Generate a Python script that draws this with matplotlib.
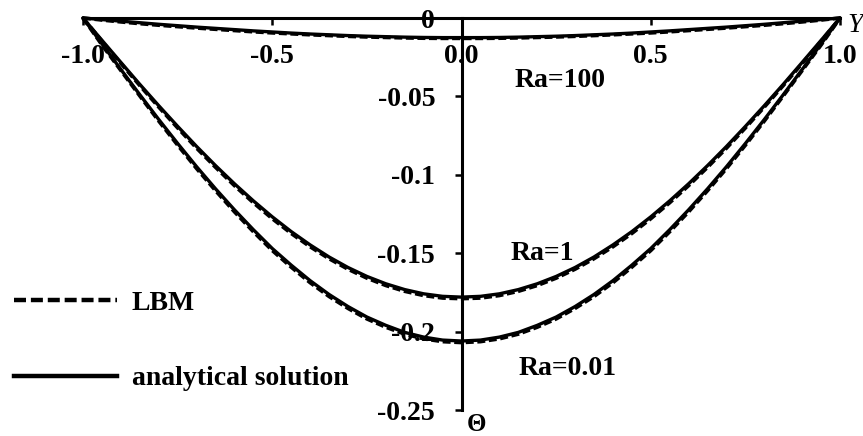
import matplotlib.pyplot as plt
from matplotlib.lines import Line2D

# dimensionless position across the channel
Y = [-1.0, -0.95, -0.9, -0.85, -0.8, -0.75, -0.7, -0.65, -0.6, -0.55, -0.5,
     -0.45, -0.4, -0.35, -0.3, -0.25, -0.2, -0.15, -0.1, -0.05, 0.0,
     0.05, 0.1, 0.15, 0.2, 0.25, 0.3, 0.35, 0.4, 0.45, 0.5,
     0.55, 0.6, 0.65, 0.7, 0.75, 0.8, 0.85, 0.9, 0.95, 1.0]

# analytical temperature profiles
ana_001 = [0, -0.0165, -0.0328, -0.0489, -0.0647, -0.0800, -0.0948, -0.1089, -0.1223, -0.1350, -0.1470,
           -0.1576, -0.1675, -0.1763, -0.1840, -0.1907, -0.1960, -0.2005, -0.2035, -0.2054, -0.2060,
           -0.2054, -0.2035, -0.2005, -0.1960, -0.1907, -0.1840, -0.1763, -0.1675, -0.1576, -0.1470,
           -0.1350, -0.1223, -0.1089, -0.0948, -0.0800, -0.0647, -0.0489, -0.0328, -0.0165, 0]
ana_1 = [0, -0.0142, -0.0283, -0.0423, -0.0559, -0.0691, -0.0819, -0.0941, -0.1057, -0.1166, -0.1268,
         -0.1362, -0.1447, -0.1524, -0.1591, -0.1648, -0.1695, -0.1732, -0.1759, -0.1775, -0.1780,
         -0.1775, -0.1759, -0.1732, -0.1695, -0.1648, -0.1591, -0.1524, -0.1447, -0.1362, -0.1268,
         -0.1166, -0.1057, -0.0941, -0.0819, -0.0691, -0.0559, -0.0423, -0.0283, -0.0142, 0]
ana_100 = [0, -0.0010, -0.0020, -0.0030, -0.0040, -0.0049, -0.0058, -0.0066, -0.0074, -0.0082, -0.0089,
           -0.0096, -0.0102, -0.0107, -0.0112, -0.0116, -0.0119, -0.0122, -0.0124, -0.0125, -0.0125,
           -0.0125, -0.0124, -0.0122, -0.0119, -0.0116, -0.0112, -0.0107, -0.0102, -0.0096, -0.0089,
           -0.0082, -0.0074, -0.0066, -0.0058, -0.0049, -0.0040, -0.0030, -0.0020, -0.0010, 0]

# LBM results
lbm_001 = [0, -0.0172, -0.0335, -0.0497, -0.0657, -0.0811, -0.0960, -0.1101, -0.1236, -0.1363, -0.1483,
           -0.1589, -0.1688, -0.1776, -0.1852, -0.1919, -0.1972, -0.2016, -0.2046, -0.2064, -0.2070,
           -0.2064, -0.2046, -0.2016, -0.1972, -0.1919, -0.1852, -0.1776, -0.1688, -0.1589, -0.1483,
           -0.1363, -0.1236, -0.1101, -0.0960, -0.0811, -0.0657, -0.0497, -0.0335, -0.0172, 0]
lbm_1 = [0, -0.0148, -0.0290, -0.0431, -0.0568, -0.0701, -0.0830, -0.0952, -0.1069, -0.1178, -0.1280,
         -0.1374, -0.1459, -0.1535, -0.1602, -0.1659, -0.1706, -0.1743, -0.1770, -0.1786, -0.1790,
         -0.1786, -0.1770, -0.1743, -0.1706, -0.1659, -0.1602, -0.1535, -0.1459, -0.1374, -0.1280,
         -0.1178, -0.1069, -0.0952, -0.0830, -0.0701, -0.0568, -0.0431, -0.0290, -0.0148, 0]
lbm_100 = [0, -0.0013, -0.0025, -0.0036, -0.0046, -0.0055, -0.0064, -0.0072, -0.0080, -0.0088, -0.0095,
           -0.0101, -0.0107, -0.0112, -0.0117, -0.0121, -0.0124, -0.0127, -0.0129, -0.0130, -0.0130,
           -0.0130, -0.0129, -0.0127, -0.0124, -0.0121, -0.0117, -0.0112, -0.0107, -0.0101, -0.0095,
           -0.0088, -0.0080, -0.0072, -0.0064, -0.0055, -0.0046, -0.0036, -0.0025, -0.0013, 0]

xticks = [-1.0, -0.5, 0.0, 0.5, 1.0]
xlabels = ['-1.0', '-0.5', '0.0', '0.5', '1.0']
yticks = [0, -0.05, -0.1, -0.15, -0.2, -0.25]
ylabels = ['0', '-0.05', '-0.1', '-0.15', '-0.2', '-0.25']

plt.rcParams['font.family'] = ['Liberation Serif', 'DejaVu Serif']
plt.rcParams['font.weight'] = 'bold'
fs = 20

fig = plt.figure(figsize=(8.63, 4.36), dpi=100)
ax = fig.add_axes([0.0962, 0.0596, 0.8772, 0.8991])

for prof in (ana_001, ana_1, ana_100):
    ax.plot(Y, prof, color='black', lw=2.4, clip_on=False, solid_capstyle='round')
for prof in (lbm_001, lbm_1, lbm_100):
    ax.plot(Y, prof, color='black', lw=2.6, dashes=(2.2, 1.0), clip_on=False)

ax.set_xlim(-1, 1)
ax.set_ylim(-0.25, 0)

for s in ('top', 'right'):
    ax.spines[s].set_visible(False)
ax.spines['left'].set_position(('data', 0))
ax.spines['bottom'].set_position(('data', 0))
for s in ('left', 'bottom'):
    ax.spines[s].set_linewidth(2.2)
    ax.spines[s].set_zorder(1)

ax.set_xticks(xticks)
ax.set_xticklabels(xlabels, fontsize=fs, fontweight='bold')
ax.set_yticks(yticks)
ax.set_yticklabels(ylabels, fontsize=fs, fontweight='bold')
ax.tick_params(axis='both', direction='out', length=5, width=1.8, pad=14)

ax.text(0.26, -0.0396, 'Ra=100', fontsize=fs, fontweight='bold', ha='center', va='center')
ax.text(0.213, -0.150, 'Ra=1', fontsize=fs, fontweight='bold', ha='center', va='center')
ax.text(0.279, -0.2236, 'Ra=0.01', fontsize=fs, fontweight='bold', ha='center', va='center')

ax.text(1.010, 0.982, 'Y', transform=ax.transAxes, fontsize=fs, fontstyle='italic',
        fontweight='normal', ha='left', va='center')
ax.text(0.52, -0.036, 'Θ', transform=ax.transAxes, fontsize=fs - 2, fontweight='bold',
        ha='center', va='center', clip_on=False)

handles = [Line2D([], [], color='black', lw=3.2, dashes=(2.7, 1.1)),
           Line2D([], [], color='black', lw=3.2)]
fig.legend(handles, ['LBM', 'analytical solution'], loc='center left',
           bbox_to_anchor=(0.016, 0.218), bbox_transform=fig.transFigure,
           frameon=False, borderpad=0, borderaxespad=0, handlelength=3.7,
           handletextpad=0.55, labelspacing=1.8,
           prop={'size': fs, 'weight': 'bold'})

fig.savefig('out.png', dpi=100)
